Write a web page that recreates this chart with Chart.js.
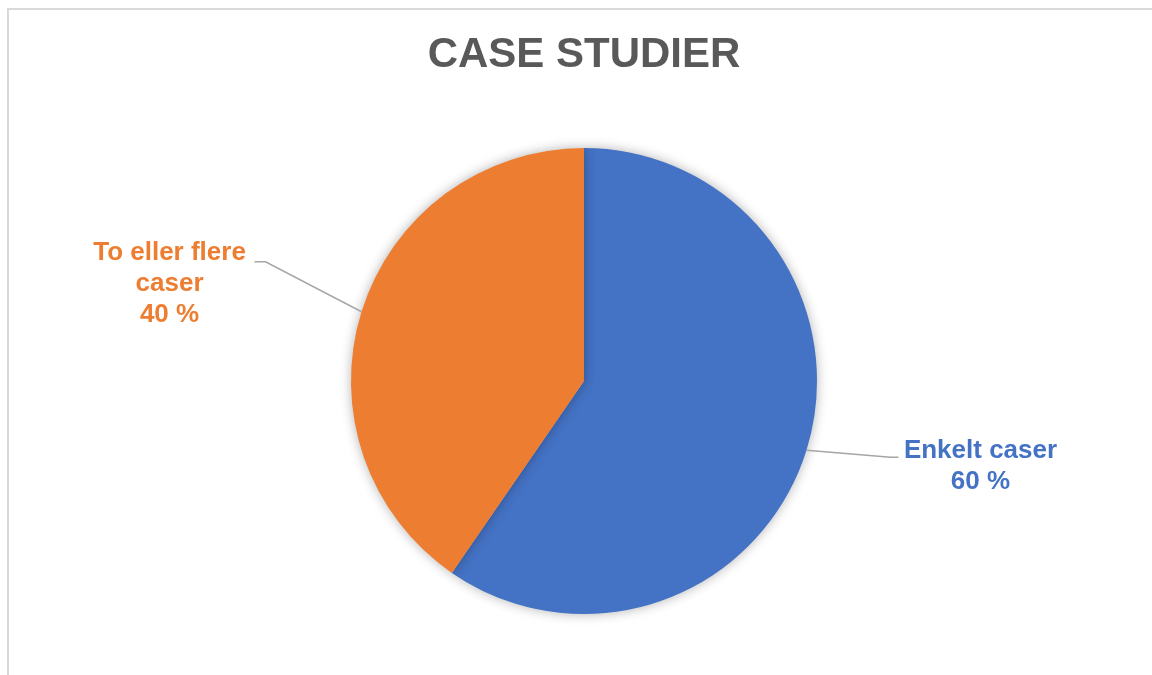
<!DOCTYPE html>
<html>
<head>
<meta charset="utf-8">
<script src="https://cdn.jsdelivr.net/npm/chart.js@4.4.0/dist/chart.umd.min.js"></script>
<style>
  body { margin: 0; background: #fff; overflow: hidden; }
  #wrap { position: relative; width: 1152px; height: 675px; }
  #frame { position: absolute; left: 7px; top: 8px; width: 1200px; height: 700px; border: 2px solid #d9d9d9; box-sizing: border-box; }
  canvas { position: absolute; left: 0; top: 0; }
</style>
</head>
<body>
<div id="wrap">
  <div id="frame"></div>
  <canvas id="pie" width="1152" height="675"></canvas>
</div>
<script>
// données
const categories = ['Enkelt caser', 'To eller flere caser'];
const values = [59.6, 40.4];
const colors = ['#4472C4', '#ED7D31'];
// texte des étiquettes (lignes), le pourcentage est ajouté
const labelLines = [['Enkelt caser'], ['To eller flere', 'caser']];

// placement des étiquettes relatif au bord de la part
const labelPos = [
  { dx: 174, dys: [1, 32], elbow: [84, 7], end: [92, 7] },
  { dx: -192, dys: [-59, -28, 3], elbow: [-96, -50], end: [-107, -50] }
];

const leaderPlugin = {
  id: 'leaders',
  afterDatasetsDraw(chart) {
    const ctx = chart.ctx;
    const meta = chart.getDatasetMeta(0);
    const total = values.reduce((a, b) => a + b, 0);
    meta.data.forEach((arc, i) => {
      const p = arc.getProps(['x', 'y', 'startAngle', 'endAngle', 'outerRadius'], true);
      const mid = (p.startAngle + p.endAngle) / 2;
      const ex = p.x + Math.cos(mid) * p.outerRadius;
      const ey = p.y + Math.sin(mid) * p.outerRadius;
      const lp = labelPos[i];
      ctx.save();
      ctx.strokeStyle = '#a6a6a6';
      ctx.lineWidth = 1.5;
      ctx.beginPath();
      ctx.moveTo(ex, ey);
      ctx.lineTo(ex + lp.elbow[0], ey + lp.elbow[1]);
      ctx.lineTo(ex + lp.end[0], ey + lp.end[1]);
      ctx.stroke();
      ctx.fillStyle = colors[i];
      ctx.font = 'bold 26px "Liberation Sans", Arial, sans-serif';
      ctx.textAlign = 'center';
      ctx.textBaseline = 'middle';
      const lines = labelLines[i].concat([Math.round(values[i] / total * 100) + ' %']);
      lines.forEach((t, k) => {
        ctx.fillText(t, ex + lp.dx, ey + lp.dys[k]);
      });
      ctx.restore();
    });
  }
};

const shadowPlugin = {
  id: 'shadow',
  beforeDatasetsDraw(chart) {
    const ctx = chart.ctx;
    ctx.save();
    ctx.shadowColor = 'rgba(0,0,0,0.3)';
    ctx.shadowBlur = 12;
    ctx.shadowOffsetX = 0;
    ctx.shadowOffsetY = 0;
  },
  afterDatasetsDraw(chart) {
    chart.ctx.restore();
  }
};

new Chart(document.getElementById('pie').getContext('2d'), {
  type: 'pie',
  data: {
    labels: categories,
    datasets: [{
      data: values,
      backgroundColor: colors,
      borderWidth: 0
    }]
  },
  options: {
    responsive: false,
    animation: false,
    layout: {
      padding: { top: 0, bottom: 61, left: 300, right: 284 }
    },
    plugins: {
      legend: { display: false },
      tooltip: { enabled: false },
      title: {
        display: true,
        text: 'CASE STUDIER',
        color: '#595959',
        font: { size: 42, weight: 'bold', family: '"Liberation Sans", Arial, sans-serif', lineHeight: 1.2 },
        padding: { top: 30, bottom: 67.6 }
      }
    }
  },
  plugins: [shadowPlugin, leaderPlugin]
});
</script>
</body>
</html>
